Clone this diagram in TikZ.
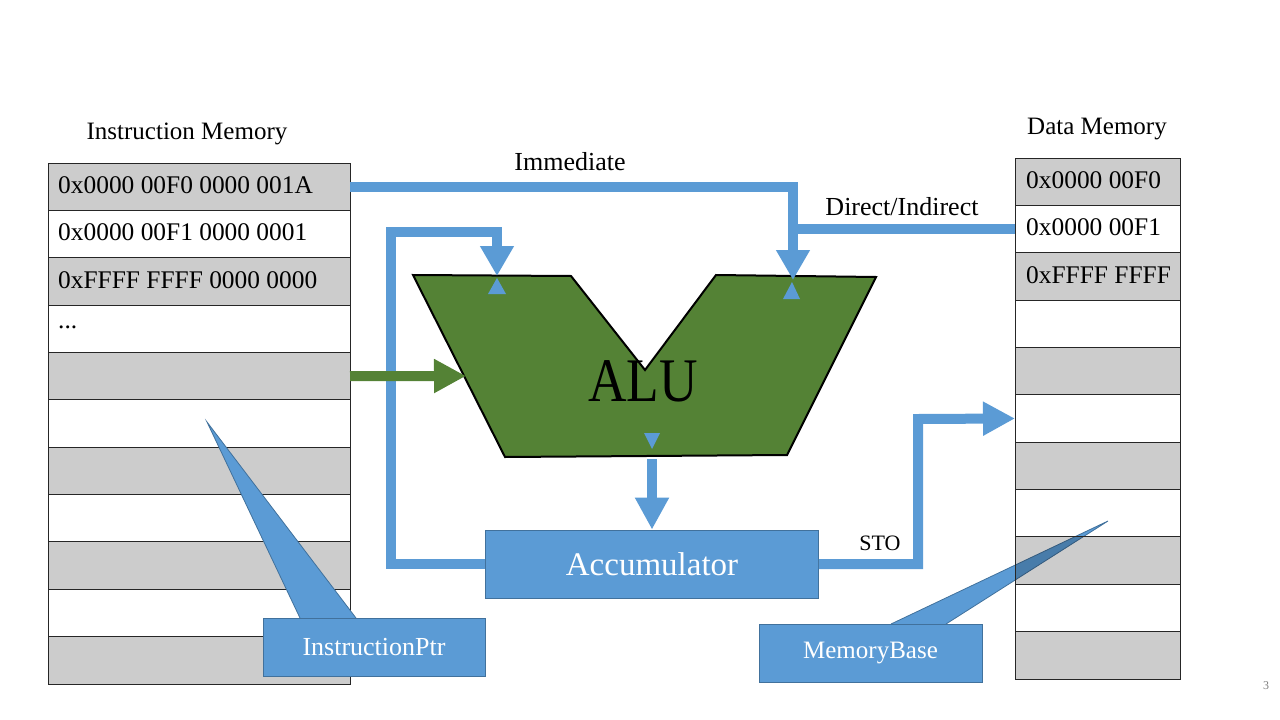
\documentclass[tikz,border=0pt]{standalone}
\usepackage{fontspec}
\setmainfont{Liberation Serif}
\usetikzlibrary{arrows.meta}
\definecolor{mblue}{HTML}{5B9BD5}
\definecolor{mblueline}{HTML}{41719C}
\definecolor{agreen}{HTML}{548235}
\definecolor{cellgrey}{HTML}{CCCCCC}
\begin{document}
\begin{tikzpicture}[x=1pt,y=-1pt,
  imcell/.style={draw=black!85, line width=0.9pt, minimum width=302pt, minimum height=47.36pt, inner sep=0pt, outer sep=0pt},
  dmcell/.style={draw=black!85, line width=0.9pt, minimum width=165pt, minimum height=47.36pt, inner sep=0pt, outer sep=0pt},
  memtext/.style={anchor=west, inner sep=0pt, font=\fontsize{25.4}{30}\selectfont},
  lbl/.style={inner sep=0pt, font=\fontsize{#1}{#1}\selectfont},
  bline/.style={draw=mblue, line width=10pt},
  gline/.style={draw=agreen, line width=10pt},
  tipb/.style={-{Triangle[width=32pt,length=30pt]}},
  callbox/.style={fill=mblue, draw=mblueline, line width=0.8pt, text=white, inner sep=0pt},
]
\useasboundingbox (0,0) rectangle (1280,720);

% ---------------- Instruction memory
\foreach \i in {1,...,11} {
  \pgfmathparse{isodd(\i)?"cellgrey":"white"}
  \edef\cc{\pgfmathresult}
  \node[imcell, fill=\cc] (im\i) at (199, {163+47.36*(\i-0.5)}) {};
}
\node[memtext, xshift=10pt, yshift=1.5pt] (imt1) at (im1.west) {0x0000 00F0 0000 001A};
\node[memtext, xshift=10pt, yshift=1.5pt] (imt2) at (im2.west) {0x0000 00F1 0000 0001};
\node[memtext, xshift=10pt, yshift=1.5pt] (imt3) at (im3.west) {0xFFFF FFFF 0000 0000};
\node[memtext, xshift=10pt, yshift=1.5pt] (imt4) at (im4.west) {...};
\node[lbl=25, anchor=base] (imtitle) at (187,139) {Instruction Memory};

% ---------------- InstructionPtr callout
\coordinate (iptip) at (207,422);
\filldraw[fill=mblue, draw=mblueline, line width=0.8pt] (300,618) -- (iptip) -- (356,618);
\node[callbox, minimum width=222pt, minimum height=58pt, font=\fontsize{26}{26}\selectfont] (iptr) at (374,647) {InstructionPtr};

% ---------------- MemoryBase callout
\coordinate (mbtip) at (1108,521);
\filldraw[fill=mblue, draw=mblueline, line width=0.8pt] (891,624) -- (mbtip) -- (946,624);
\node[callbox, minimum width=223pt, minimum height=58pt, font=\fontsize{25}{25}\selectfont] (mbase) at (870.5,653) {MemoryBase};

% ---------------- Data memory
\foreach \i in {1,...,11} {
  \pgfmathparse{isodd(\i)?"0.2":"0"}
  \edef\oo{\pgfmathresult}
  \node[dmcell, fill=black, fill opacity=\oo] (dm\i) at (1097.5, {158+47.36*(\i-0.5)}) {};
}
\node[memtext, xshift=11pt, yshift=1.5pt] (dmt1) at (dm1.west) {0x0000 00F0};
\node[memtext, xshift=11pt, yshift=1.5pt] (dmt2) at (dm2.west) {0x0000 00F1};
\node[memtext, xshift=11pt, yshift=1.5pt] (dmt3) at (dm3.west) {0xFFFF FFFF};
\node[lbl=25, anchor=base] (dmtitle) at (1097,134) {Data Memory};

% ---------------- ALU
\filldraw[fill=agreen, draw=black, line width=2pt]
  (413,275) -- (571,276) -- (645,370) -- (716,275) -- (876,277) -- (787,455) -- (505,457) -- cycle;
\node[lbl=62] (alutext) at (643,381) {\scalebox{0.86}[1]{ALU}};
\coordinate (alutopL) at (497,276);
\coordinate (alutopR) at (793,280);
\coordinate (aluin) at (466,376);
\coordinate (alubot) at (652,459);

% ---------------- Accumulator
\node[fill=mblue, draw=mblueline, line width=0.8pt, minimum width=333pt, minimum height=68pt, inner sep=0pt,
  text=white, font=\fontsize{33}{33}\selectfont] (acc) at (652,564) {Accumulator};

% ---------------- connectors
\draw[bline, tipb] (im1.east) -| (alutopR);
\draw[bline] (dm2.west) -- (dm2.west -| alutopR);
\coordinate (loopc) at (391,232);
\draw[bline, tipb] (acc.west) -| (loopc) -| (alutopL);
\draw[bline, -{Triangle[width=32pt,length=32pt]}] (alubot) -- (acc.north);
\coordinate (stoc) at (918,419);
\draw[bline, -{Triangle[width=32pt,length=32pt]}] (acc.east) -| (stoc) -- (dm6.west);
\draw[gline, -{Triangle[width=32pt,length=32pt]}] (im5.east) -- (aluin);

% small marks inside the ALU
\fill[mblue] (497,278) -- (506,294) -- (488,294) -- cycle;
\fill[mblue] (792,282) -- (800,299) -- (783,299) -- cycle;
\fill[mblue] (644,433) -- (660,433) -- (652,449) -- cycle;

% ---------------- labels
\node[lbl=26] (limm) at (570,162) {Immediate};
\node[lbl=26] (ldir) at (902,207) {Direct/Indirect};
\node[lbl=22] (lsto) at (880,543) {STO};
\node[lbl=12, text=gray] (pgnum) at (1266,686) {3};
\end{tikzpicture}
\end{document}
